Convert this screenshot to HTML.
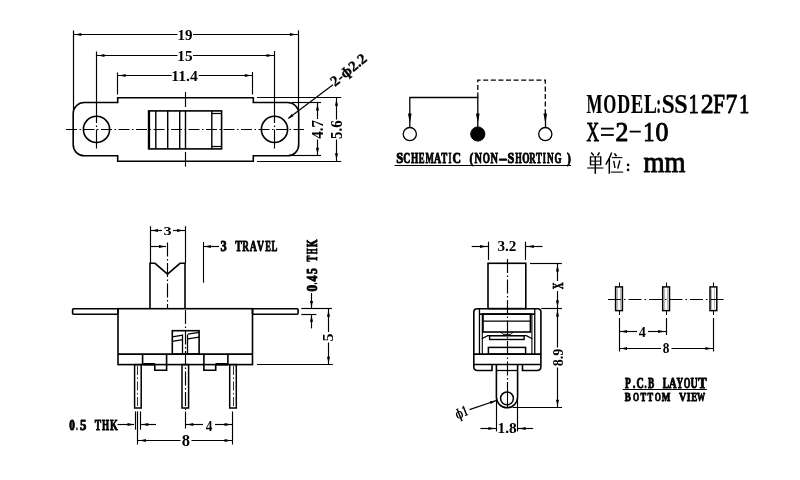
<!DOCTYPE html>
<html><head><meta charset="utf-8"><style>
html,body{margin:0;padding:0;background:#fff;}
body{width:800px;height:480px;overflow:hidden;font-family:"Liberation Serif",serif;}
svg{display:block;will-change:transform;}
</style></head><body>
<svg width="800" height="480" viewBox="0 0 800 480">
<rect width="800" height="480" fill="#fff"/>
<line x1="73.5" y1="30.5" x2="73.5" y2="112" stroke="#000" stroke-width="1.2"/>
<line x1="298.5" y1="30.3" x2="298.5" y2="112" stroke="#000" stroke-width="1.2"/>
<line x1="73.1" y1="34.5" x2="177.5" y2="34.5" stroke="#000" stroke-width="1.15"/>
<line x1="193" y1="34.5" x2="298" y2="34.5" stroke="#000" stroke-width="1.15"/>
<path d="M74.8,34.5L81.3,32.95L81.3,36.05Z" fill="#000"/>
<path d="M296.4,34.5L289.9,36.05L289.9,32.95Z" fill="#000"/>
<g transform="translate(178.7,39.7)" font-family='"Liberation Serif"' font-weight="bold" font-size="14.81"><text transform="translate(-1.2,0) scale(1.0148,1)">19</text></g>
<line x1="96.5" y1="51.5" x2="96.5" y2="103" stroke="#000" stroke-width="1.15"/>
<line x1="274.5" y1="51" x2="274.5" y2="103" stroke="#000" stroke-width="1.15"/>
<line x1="96.5" y1="55.5" x2="177.5" y2="55.5" stroke="#000" stroke-width="1.15"/>
<line x1="193" y1="55.5" x2="274.5" y2="55.5" stroke="#000" stroke-width="1.15"/>
<path d="M98,55.5L104.5,53.95L104.5,57.05Z" fill="#000"/>
<path d="M273,55.5L266.5,57.05L266.5,53.95Z" fill="#000"/>
<g transform="translate(178.5,60.5)" font-family='"Liberation Serif"' font-weight="bold" font-size="14.81"><text transform="translate(-1.22,0) scale(1.0301,1)">15</text></g>
<line x1="117.5" y1="72.5" x2="117.5" y2="94.5" stroke="#000" stroke-width="1.15"/>
<line x1="252.5" y1="72" x2="252.5" y2="94.5" stroke="#000" stroke-width="1.15"/>
<line x1="117.7" y1="75.5" x2="171.7" y2="75.5" stroke="#000" stroke-width="1.15"/>
<line x1="198.7" y1="75.5" x2="252.8" y2="75.5" stroke="#000" stroke-width="1.15"/>
<path d="M119.2,75.5L125.7,73.95L125.7,77.05Z" fill="#000"/>
<path d="M251.3,75.5L244.8,77.05L244.8,73.95Z" fill="#000"/>
<g transform="translate(172.5,81.3)" font-family='"Liberation Serif"' font-weight="bold" font-size="14.66"><text transform="translate(-1.25,0) scale(1.0694,1)">11.4</text></g>
<path d="M117.7,97.7 H253.3 V102.5 H287.7 A11,11 0 0 1 298.7,113.5 V144.8 A11,11 0 0 1 287.7,155.8 H253.3 V161.3 H117.7 V155.8 H84.2 A11,11 0 0 1 73.2,144.8 V113.5 A11,11 0 0 1 84.2,102.5 H117.7 Z" fill="none" stroke="#000" stroke-width="1.6"/>
<circle cx="96.5" cy="129.4" r="13.1" fill="none" stroke="#000" stroke-width="1.6"/>
<circle cx="274.5" cy="129.4" r="13.1" fill="none" stroke="#000" stroke-width="1.6"/>
<line x1="66" y1="129.5" x2="304" y2="129.5" stroke="#000" stroke-width="1.15" stroke-dasharray="11 2.5 1.5 2.5"/>
<line x1="96.5" y1="103" x2="96.5" y2="148.5" stroke="#000" stroke-width="1.15" stroke-dasharray="20 2.5 1.5 2.5 20"/>
<line x1="274.5" y1="103" x2="274.5" y2="148.5" stroke="#000" stroke-width="1.15" stroke-dasharray="20 2.5 1.5 2.5 20"/>
<line x1="185.5" y1="92" x2="185.5" y2="107" stroke="#000" stroke-width="1.15"/>
<line x1="185.5" y1="152" x2="185.5" y2="166.5" stroke="#000" stroke-width="1.15"/>
<rect x="148.6" y="110.9" width="73" height="38" fill="none" stroke="#000" stroke-width="1.6"/>
<line x1="149.5" y1="110.9" x2="149.5" y2="148.9" stroke="#000" stroke-width="1.2"/>
<line x1="155.8" y1="110.9" x2="155.8" y2="148.9" stroke="#000" stroke-width="1.4"/>
<line x1="167.7" y1="110.9" x2="167.7" y2="148.9" stroke="#000" stroke-width="1.4"/>
<line x1="179.7" y1="110.9" x2="179.7" y2="148.9" stroke="#000" stroke-width="1.4"/>
<line x1="185.5" y1="110.9" x2="185.5" y2="148.9" stroke="#000" stroke-width="1.4"/>
<line x1="211.8" y1="110.9" x2="211.8" y2="148.9" stroke="#000" stroke-width="1.4"/>
<line x1="211.8" y1="113.5" x2="221.6" y2="113.5" stroke="#000" stroke-width="1.2"/>
<line x1="211.8" y1="146.5" x2="221.6" y2="146.5" stroke="#000" stroke-width="1.2"/>
<line x1="288.5" y1="118.2" x2="333" y2="84.8" stroke="#000" stroke-width="1.2"/>
<path d="M287.5,119L291.8,113.9L293.6,116.3Z" fill="#000"/>
<g transform="translate(335.5,86.5) rotate(-39)" font-family='"Liberation Serif"' font-weight="bold" font-size="14.66" stroke="#000" stroke-width="0.3" vector-effect="non-scaling-stroke" stroke-linejoin="round"><text transform="translate(-0.6,0) scale(1.0266,1)">2-ɸ2.2</text></g>
<line x1="292" y1="102.5" x2="321" y2="102.5" stroke="#000" stroke-width="1.15"/>
<line x1="292" y1="155.5" x2="321" y2="155.5" stroke="#000" stroke-width="1.15"/>
<line x1="317.5" y1="102.5" x2="317.5" y2="119" stroke="#000" stroke-width="1.15"/>
<line x1="317.5" y1="139.5" x2="317.5" y2="155.8" stroke="#000" stroke-width="1.15"/>
<path d="M317.5,104L319.05,110.5L315.95,110.5Z" fill="#000"/>
<path d="M317.5,154.3L315.95,147.8L319.05,147.8Z" fill="#000"/>
<g transform="translate(322.5,138.5) rotate(-90)" font-family='"Liberation Serif"' font-weight="bold" font-size="16.49"><text transform="translate(-0.22,0) scale(0.9022,1)">4.7</text></g>
<line x1="257" y1="97.5" x2="341.3" y2="97.5" stroke="#000" stroke-width="1.15"/>
<line x1="257" y1="161.5" x2="341.3" y2="161.5" stroke="#000" stroke-width="1.15"/>
<line x1="336.5" y1="97.7" x2="336.5" y2="119.5" stroke="#000" stroke-width="1.15"/>
<line x1="336.5" y1="139.5" x2="336.5" y2="161.3" stroke="#000" stroke-width="1.15"/>
<path d="M336.5,99.2L338.05,105.7L334.95,105.7Z" fill="#000"/>
<path d="M336.5,159.8L334.95,153.3L338.05,153.3Z" fill="#000"/>
<g transform="translate(342,138.3) rotate(-90)" font-family='"Liberation Serif"' font-weight="bold" font-size="16.79"><text transform="translate(-0.59,0) scale(0.8831,1)">5.6</text></g>
<path d="M409.8,127 V97.5 H477.8 V127" fill="none" stroke="#000" stroke-width="1.3"/>
<path d="M477.8,97.5 V80.1 H545.3 V114" fill="none" stroke="#000" stroke-width="1.3" stroke-dasharray="5 2.6"/>
<line x1="545.5" y1="114" x2="545.5" y2="127" stroke="#000" stroke-width="1.3"/>
<path d="M409.8,123.5L408,113.5L411.6,113.5Z" fill="#000"/>
<path d="M477.8,123.5L476,113.5L479.6,113.5Z" fill="#000"/>
<path d="M545.3,123.5L543.5,113.5L547.1,113.5Z" fill="#000"/>
<circle cx="409.8" cy="134.1" r="6.6" fill="none" stroke="#000" stroke-width="1.3"/>
<circle cx="477.8" cy="134" r="7.1" fill="#000" stroke="#000" stroke-width="1"/>
<circle cx="545.3" cy="134.1" r="6.6" fill="none" stroke="#000" stroke-width="1.3"/>
<g transform="translate(397.25,162.82)" font-family='"Liberation Serif"' font-weight="bold" font-size="15.18" stroke="#000" stroke-width="0.9" vector-effect="non-scaling-stroke" stroke-linejoin="round"><text transform="translate(-0.94,0) scale(0.8309,1)">S</text><text transform="translate(6.07,0) scale(0.6368,1)">C</text><text transform="translate(13.71,0) scale(0.6103,1)">H</text><text transform="translate(21.57,0) scale(0.5766,1)">E</text><text transform="translate(28.32,0) scale(0.5857,1)">M</text><text transform="translate(36.75,0) scale(0.6496,1)">A</text><text transform="translate(44.06,0) scale(0.5967,1)">T</text><text transform="translate(51.29,0) scale(0.4942,1)">I</text><text transform="translate(55.36,0) scale(0.7752,1)">C</text><text transform="translate(72.18,0) scale(0.7623,1)">(</text><text transform="translate(77.34,0) scale(0.6781,1)">N</text><text transform="translate(85.39,0) scale(0.6105,1)">O</text><text transform="translate(93.14,0) scale(0.6781,1)">N</text><text transform="translate(101.45,0) scale(1.6981,1)">-</text><text transform="translate(110.28,0) scale(0.8022,1)">S</text><text transform="translate(117.92,0) scale(0.5528,1)">H</text><text transform="translate(124.98,0) scale(0.6153,1)">O</text><text transform="translate(132.07,0) scale(0.5852,1)">R</text><text transform="translate(138.82,0) scale(0.5811,1)">T</text><text transform="translate(145.42,0) scale(0.5354,1)">I</text><text transform="translate(149.67,0) scale(0.6017,1)">N</text><text transform="translate(157.25,0) scale(0.5978,1)">G</text><text transform="translate(169.7,0) scale(0.7603,1)">)</text></g>
<line x1="394.5" y1="165.5" x2="571" y2="165.5" stroke="#000" stroke-width="1.2"/>
<g transform="translate(586.7,112.71)" font-family='"Liberation Serif"' font-weight="bold" font-size="26.98" stroke="#000" stroke-width="0.2" vector-effect="non-scaling-stroke" stroke-linejoin="round"><text transform="translate(-0.25,0) scale(0.6260,1)">M</text><text transform="translate(16.46,0) scale(0.6214,1)">O</text><text transform="translate(30.53,0) scale(0.6627,1)">D</text><text transform="translate(44.42,0) scale(0.6796,1)">E</text><text transform="translate(57.21,0) scale(0.7171,1)">L</text><text transform="translate(69.54,0) scale(0.5392,1)">:</text><text transform="translate(75.03,0) scale(0.8582,1)">S</text><text transform="translate(87.67,0) scale(0.8945,1)">S</text></g>
<g transform="translate(690.35,112.57)" font-family='"Liberation Serif"' font-weight="normal" font-size="26.55" stroke="#000" stroke-width="0.9" vector-effect="non-scaling-stroke" stroke-linejoin="round"><text transform="translate(-1.75,0) scale(0.7745,1)">1</text><text transform="translate(10.34,0) scale(0.9699,1)">2</text><text transform="translate(22.87,0) scale(0.7917,1)">F</text><text transform="translate(35.06,0) scale(0.8928,1)">7</text><text transform="translate(48.75,0) scale(0.7745,1)">1</text></g>
<g transform="translate(586.73,140.81)" font-family='"Liberation Serif"' font-weight="normal" font-size="26.9" stroke="#000" stroke-width="0.95" vector-effect="non-scaling-stroke" stroke-linejoin="round"><text transform="translate(-0.35,0) scale(0.6512,1)">X</text><text transform="translate(28.7,0) scale(0.9526,1)">2</text><text transform="translate(56.57,0) scale(0.8430,1)">1</text><text transform="translate(68.72,0) scale(0.9603,1)">0</text></g>
<line x1="601" y1="128.6" x2="613.8" y2="128.6" stroke="#000" stroke-width="1.8"/>
<line x1="601" y1="135" x2="613.8" y2="135" stroke="#000" stroke-width="1.8"/>
<line x1="629.6" y1="131.6" x2="640.8" y2="131.6" stroke="#000" stroke-width="1.8"/>
<g transform="translate(644.15,172.12)" font-family='"Liberation Serif"' font-weight="normal" font-size="28.57" stroke="#000" stroke-width="0.9" vector-effect="non-scaling-stroke" stroke-linejoin="round"><text transform="translate(-0.54,0) scale(0.9412,1)">mm</text></g>
<path d="M150,308.7 V263.3 H155 L167.5,274.2 L180,263.3 H185 V308.7" fill="none" stroke="#000" stroke-width="1.6"/>
<line x1="150.5" y1="226.3" x2="150.5" y2="263.3" stroke="#000" stroke-width="1.15"/>
<line x1="185.5" y1="226.3" x2="185.5" y2="263.3" stroke="#000" stroke-width="1.15"/>
<line x1="150" y1="230.5" x2="162" y2="230.5" stroke="#000" stroke-width="1.15"/>
<line x1="173" y1="230.5" x2="185" y2="230.5" stroke="#000" stroke-width="1.15"/>
<path d="M151.5,230.5L158,228.95L158,232.05Z" fill="#000"/>
<path d="M183.5,230.5L177,232.05L177,228.95Z" fill="#000"/>
<g transform="translate(164,235.3)" font-family='"Liberation Serif"' font-weight="bold" font-size="13.13"><text transform="translate(-0.57,0) scale(1.2399,1)">3</text></g>
<line x1="150" y1="246.5" x2="166" y2="246.5" stroke="#000" stroke-width="1.15"/>
<path d="M165.5,246.5L159,248.05L159,244.95Z" fill="#000"/>
<line x1="167.5" y1="242.5" x2="167.5" y2="308" stroke="#000" stroke-width="1.15" stroke-dasharray="14 2.5 1.5 2.5"/>
<line x1="203.5" y1="242" x2="203.5" y2="282.7" stroke="#000" stroke-width="1.1"/>
<line x1="203" y1="246.5" x2="219" y2="246.5" stroke="#000" stroke-width="1.15"/>
<path d="M204.4,246.5L210.9,244.95L210.9,248.05Z" fill="#000"/>
<g transform="translate(220.95,251.32)" font-family='"Liberation Serif"' font-weight="bold" font-size="15.02" stroke="#000" stroke-width="0.9" vector-effect="non-scaling-stroke" stroke-linejoin="round"><text transform="translate(-0.43,0) scale(0.8205,1)">3</text><text transform="translate(14.35,0) scale(0.6604,1)">T</text><text transform="translate(21.26,0) scale(0.6144,1)">R</text><text transform="translate(28.8,0) scale(0.6515,1)">A</text><text transform="translate(36,0) scale(0.6561,1)">V</text><text transform="translate(44.37,0) scale(0.5658,1)">E</text><text transform="translate(50.67,0) scale(0.5893,1)">L</text></g>
<rect x="118" y="308.7" width="134.5" height="55.9" fill="none" stroke="#000" stroke-width="1.6"/>
<rect x="72.6" y="308.7" width="45.4" height="5.5" fill="none" stroke="#000" stroke-width="1.6" rx="1"/>
<rect x="252.5" y="308.7" width="45.6" height="5.5" fill="none" stroke="#000" stroke-width="1.6" rx="1"/>
<line x1="118" y1="354.1" x2="252.5" y2="354.1" stroke="#000" stroke-width="1.6"/>
<line x1="142.6" y1="354.1" x2="142.6" y2="364.6" stroke="#000" stroke-width="1.6"/>
<line x1="227.9" y1="354.1" x2="227.9" y2="364.6" stroke="#000" stroke-width="1.6"/>
<path d="M142.6,364.6 H154.8 V370.3 H166.6 V354.1" fill="none" stroke="#000" stroke-width="1.6"/>
<path d="M227.9,364.6 H215.7 V370.3 H203.9 V354.1" fill="none" stroke="#000" stroke-width="1.6"/>
<line x1="143.5" y1="363.5" x2="154.8" y2="363.5" stroke="#000" stroke-width="1"/>
<line x1="227" y1="363.5" x2="215.7" y2="363.5" stroke="#000" stroke-width="1"/>
<rect x="172.3" y="330.7" width="26.8" height="23.4" fill="none" stroke="#000" stroke-width="1.6"/>
<line x1="172.3" y1="336.8" x2="182.7" y2="335.1" stroke="#000" stroke-width="1.3"/>
<line x1="187.9" y1="334.2" x2="199.1" y2="332.4" stroke="#000" stroke-width="1.3"/>
<line x1="172.3" y1="341.4" x2="182.7" y2="339.7" stroke="#000" stroke-width="1.3"/>
<line x1="187.9" y1="338.9" x2="199.1" y2="337.2" stroke="#000" stroke-width="1.3"/>
<line x1="182.5" y1="334.6" x2="182.5" y2="354.1" stroke="#000" stroke-width="1.3"/>
<line x1="187.5" y1="334.6" x2="187.5" y2="354.1" stroke="#000" stroke-width="1.3"/>
<line x1="185.5" y1="310" x2="185.5" y2="412" stroke="#000" stroke-width="1.15" stroke-dasharray="14 2.5 1.5 2.5"/>
<rect x="134.6" y="364.6" width="6.6" height="43.4" fill="none" stroke="#000" stroke-width="1.5"/>
<rect x="182" y="364.6" width="6.6" height="43.4" fill="none" stroke="#000" stroke-width="1.5"/>
<rect x="229.7" y="364.6" width="6.6" height="43.4" fill="none" stroke="#000" stroke-width="1.5"/>
<line x1="137.5" y1="366" x2="137.5" y2="406" stroke="#000" stroke-width="0.8" stroke-dasharray="9 2.5 1.5 2.5"/>
<line x1="233.5" y1="366" x2="233.5" y2="406" stroke="#000" stroke-width="0.8" stroke-dasharray="9 2.5 1.5 2.5"/>
<line x1="135.5" y1="411.4" x2="135.5" y2="429.7" stroke="#000" stroke-width="1.15"/>
<line x1="140.5" y1="411.4" x2="140.5" y2="429.7" stroke="#000" stroke-width="1.15"/>
<line x1="137.5" y1="411.4" x2="137.5" y2="444.5" stroke="#000" stroke-width="1.15"/>
<line x1="185.5" y1="411.5" x2="185.5" y2="428.5" stroke="#000" stroke-width="1.15"/>
<line x1="232.5" y1="411.5" x2="232.5" y2="444.5" stroke="#000" stroke-width="1.15"/>
<g transform="translate(69.6,430.17)" font-family='"Liberation Serif"' font-weight="bold" font-size="14.49" stroke="#000" stroke-width="0.9" vector-effect="non-scaling-stroke" stroke-linejoin="round"><text transform="translate(-0.45,0) scale(0.7724,1)">0</text><text transform="translate(6.76,0) scale(0.3667,1)">.</text><text transform="translate(10.34,0) scale(0.8770,1)">5</text><text transform="translate(25.06,0) scale(0.6630,1)">T</text><text transform="translate(32.41,0) scale(0.6300,1)">H</text><text transform="translate(40.4,0) scale(0.6856,1)">K</text></g>
<line x1="117.5" y1="424.5" x2="134" y2="424.5" stroke="#000" stroke-width="1.15"/>
<path d="M134,424.5L127.5,426.05L127.5,422.95Z" fill="#000"/>
<line x1="141.1" y1="424.5" x2="156" y2="424.5" stroke="#000" stroke-width="1.15"/>
<path d="M141.8,424.5L148.3,422.95L148.3,426.05Z" fill="#000"/>
<line x1="185.3" y1="424.5" x2="203" y2="424.5" stroke="#000" stroke-width="1.15"/>
<line x1="215" y1="424.5" x2="232.6" y2="424.5" stroke="#000" stroke-width="1.15"/>
<path d="M186.8,424.5L193.3,422.95L193.3,426.05Z" fill="#000"/>
<path d="M231.1,424.5L224.6,426.05L224.6,422.95Z" fill="#000"/>
<g transform="translate(206,431)" font-family='"Liberation Serif"' font-weight="bold" font-size="15.27"><text transform="translate(-0.2,0) scale(0.8733,1)">4</text></g>
<line x1="137.9" y1="440.5" x2="180.5" y2="440.5" stroke="#000" stroke-width="1.15"/>
<line x1="191.5" y1="440.5" x2="232.6" y2="440.5" stroke="#000" stroke-width="1.15"/>
<path d="M139.4,440.5L145.9,438.95L145.9,442.05Z" fill="#000"/>
<path d="M231.1,440.5L224.6,442.05L224.6,438.95Z" fill="#000"/>
<g transform="translate(182.3,446.3)" font-family='"Liberation Serif"' font-weight="bold" font-size="15.88"><text transform="translate(-0.58,0) scale(1.0399,1)">8</text></g>
<g transform="translate(317.22,291.05) rotate(-90)" font-family='"Liberation Serif"' font-weight="bold" font-size="15.18" stroke="#000" stroke-width="0.9" vector-effect="non-scaling-stroke" stroke-linejoin="round"><text transform="translate(-0.53,0) scale(0.8786,1)">0</text><text transform="translate(6.82,0) scale(0.4118,1)">.</text><text transform="translate(9.52,0) scale(0.7936,1)">4</text><text transform="translate(17.04,0) scale(0.7597,1)">5</text><text transform="translate(29.57,0) scale(0.5811,1)">T</text><text transform="translate(36.69,0) scale(0.4953,1)">H</text><text transform="translate(43.75,0) scale(0.6546,1)">K</text></g>
<line x1="311.5" y1="293" x2="311.5" y2="308.7" stroke="#000" stroke-width="1.15"/>
<path d="M311.5,307.4L309.95,300.9L313.05,300.9Z" fill="#000"/>
<line x1="311.5" y1="314" x2="311.5" y2="328.4" stroke="#000" stroke-width="1.15"/>
<path d="M311.5,315.3L313.05,321.8L309.95,321.8Z" fill="#000"/>
<line x1="301.3" y1="308.5" x2="331.9" y2="308.5" stroke="#000" stroke-width="1.15"/>
<line x1="301.3" y1="314.5" x2="316.3" y2="314.5" stroke="#000" stroke-width="1.15"/>
<line x1="256.9" y1="364.5" x2="332.8" y2="364.5" stroke="#000" stroke-width="1.15"/>
<line x1="328.5" y1="308.7" x2="328.5" y2="332" stroke="#000" stroke-width="1.15"/>
<line x1="328.5" y1="342.5" x2="328.5" y2="364.8" stroke="#000" stroke-width="1.15"/>
<path d="M328.5,310.2L330.05,316.7L326.95,316.7Z" fill="#000"/>
<path d="M328.5,363.3L326.95,356.8L330.05,356.8Z" fill="#000"/>
<g transform="translate(332.8,340.8) rotate(-90)" font-family='"Liberation Serif"' font-weight="bold" font-size="14.35"><text transform="translate(-0.65,0) scale(1.1313,1)">5</text></g>
<rect x="488" y="263.3" width="37.8" height="45.3" fill="none" stroke="#000" stroke-width="1.6"/>
<line x1="488.5" y1="241.7" x2="488.5" y2="260" stroke="#000" stroke-width="1.15"/>
<line x1="525.5" y1="241.7" x2="525.5" y2="260" stroke="#000" stroke-width="1.15"/>
<line x1="471.7" y1="246.5" x2="488" y2="246.5" stroke="#000" stroke-width="1.15"/>
<path d="M486.5,246.5L480,248.05L480,244.95Z" fill="#000"/>
<line x1="525.8" y1="246.5" x2="542.5" y2="246.5" stroke="#000" stroke-width="1.15"/>
<path d="M527.3,246.5L533.8,244.95L533.8,248.05Z" fill="#000"/>
<g transform="translate(498,251.3)" font-family='"Liberation Serif"' font-weight="bold" font-size="15.27"><text transform="translate(-0.53,0) scale(0.9923,1)">3.2</text></g>
<line x1="507.5" y1="259" x2="507.5" y2="408" stroke="#000" stroke-width="1.15" stroke-dasharray="14 2.5 1.5 2.5"/>
<line x1="530" y1="263.5" x2="561.9" y2="263.5" stroke="#000" stroke-width="1.15"/>
<line x1="557.5" y1="263.5" x2="557.5" y2="281" stroke="#000" stroke-width="1.15"/>
<line x1="557.5" y1="291" x2="557.5" y2="308.5" stroke="#000" stroke-width="1.15"/>
<path d="M557.5,265L559.05,271.5L555.95,271.5Z" fill="#000"/>
<path d="M557.5,307L555.95,300.5L559.05,300.5Z" fill="#000"/>
<g transform="translate(562.61,289.05) rotate(-90)" font-family='"Liberation Serif"' font-weight="bold" font-size="15.6" stroke="#000" stroke-width="0.7" vector-effect="non-scaling-stroke" stroke-linejoin="round"><text transform="translate(-0.19,0) scale(0.5991,1)">X</text></g>
<line x1="541.25" y1="308.5" x2="561.9" y2="308.5" stroke="#000" stroke-width="1.15"/>
<line x1="557.5" y1="308.5" x2="557.5" y2="347.5" stroke="#000" stroke-width="1.15"/>
<line x1="557.5" y1="367.5" x2="557.5" y2="407.7" stroke="#000" stroke-width="1.15"/>
<path d="M557.5,310L559.05,316.5L555.95,316.5Z" fill="#000"/>
<path d="M557.5,406.2L555.95,399.7L559.05,399.7Z" fill="#000"/>
<g transform="translate(562.5,365.8) rotate(-90)" font-family='"Liberation Serif"' font-weight="bold" font-size="15.27"><text transform="translate(-0.49,0) scale(0.9214,1)">8.9</text></g>
<line x1="512.5" y1="407.5" x2="562" y2="407.5" stroke="#000" stroke-width="1.15"/>
<path d="M492,364.5 V370.5 H477.5 Q473.8,370.5 473.8,366.5 V312 Q473.8,308.7 477.1,308.7 H537.6 Q540.9,308.7 540.9,312 V366.5 Q540.9,370.5 537,370.5 H522.5 V364.5" fill="none" stroke="#000" stroke-width="1.6"/>
<line x1="473.8" y1="364.5" x2="540.9" y2="364.5" stroke="#000" stroke-width="1.6"/>
<line x1="473.8" y1="354.1" x2="540.9" y2="354.1" stroke="#000" stroke-width="1.6"/>
<line x1="479.45" y1="314.1" x2="534.75" y2="314.1" stroke="#000" stroke-width="1.6"/>
<line x1="479.45" y1="308.7" x2="479.45" y2="354.1" stroke="#000" stroke-width="1.3"/>
<line x1="534.75" y1="308.7" x2="534.75" y2="354.1" stroke="#000" stroke-width="1.3"/>
<line x1="482.3" y1="314.1" x2="482.3" y2="354.1" stroke="#000" stroke-width="1.1"/>
<line x1="531.9" y1="314.1" x2="531.9" y2="354.1" stroke="#000" stroke-width="1.1"/>
<rect x="483" y="314.1" width="47.4" height="17.9" fill="none" stroke="#000" stroke-width="1.6"/>
<line x1="483" y1="321.1" x2="530.4" y2="321.1" stroke="#000" stroke-width="1.4"/>
<path d="M500.8,332 L503,334.3 H511 L513.2,332" fill="none" stroke="#000" stroke-width="1"/>
<path d="M481.8,338.8 L487.7,335.7 H526.3 L532.4,338.8" fill="none" stroke="#000" stroke-width="1.2"/>
<rect x="489.6" y="335.7" width="34.5" height="3.8" fill="none" stroke="#000" stroke-width="1.4"/>
<rect x="488.4" y="347.4" width="37.2" height="6.7" fill="none" stroke="#000" stroke-width="1.5"/>
<path d="M496.4,364.5 V397.1 A10.6,10.6 0 0 0 517.6,397.1 V364.5" fill="none" stroke="#000" stroke-width="1.6"/>
<line x1="496.4" y1="370.5" x2="517.6" y2="370.5" stroke="#000" stroke-width="1.3"/>
<circle cx="507" cy="398.4" r="6.4" fill="none" stroke="#000" stroke-width="1.5"/>
<line x1="507.5" y1="387.3" x2="507.5" y2="406.8" stroke="#000" stroke-width="1"/>
<line x1="496.5" y1="399" x2="496.5" y2="431.4" stroke="#000" stroke-width="1.15"/>
<line x1="517.5" y1="399" x2="517.5" y2="431.4" stroke="#000" stroke-width="1.15"/>
<line x1="480.4" y1="428.5" x2="496.4" y2="428.5" stroke="#000" stroke-width="1.15"/>
<path d="M494.9,428.5L488.4,430.05L488.4,426.95Z" fill="#000"/>
<line x1="517.6" y1="428.5" x2="533.2" y2="428.5" stroke="#000" stroke-width="1.15"/>
<path d="M519.1,428.5L525.6,426.95L525.6,430.05Z" fill="#000"/>
<g transform="translate(498.7,432.6)" font-family='"Liberation Serif"' font-weight="bold" font-size="14.05"><text transform="translate(-1.23,0) scale(1.0977,1)">1.8</text></g>
<line x1="469.5" y1="409.6" x2="496.4" y2="400.5" stroke="#000" stroke-width="1.15"/>
<path d="M496.4,400.5L490.72,404L489.76,401.16Z" fill="#000"/>
<g transform="translate(457.5,419.3) rotate(-22)" font-family='"Liberation Serif"' font-weight="bold" font-size="15.27"><text transform="translate(-0.37,0) scale(0.6925,1)">ɸ1</text></g>
<rect x="615.6" y="286.9" width="6.8" height="23.7" fill="none" stroke="#000" stroke-width="1.5"/>
<line x1="619.5" y1="282.5" x2="619.5" y2="286.9" stroke="#000" stroke-width="1"/>
<line x1="619.5" y1="310.6" x2="619.5" y2="315" stroke="#000" stroke-width="1"/>
<line x1="617.5" y1="288.5" x2="617.5" y2="309" stroke="#999" stroke-width="0.7"/>
<line x1="620.5" y1="288.5" x2="620.5" y2="309" stroke="#999" stroke-width="0.7"/>
<rect x="662.7" y="286.9" width="6.8" height="23.7" fill="none" stroke="#000" stroke-width="1.5"/>
<line x1="666.5" y1="282.5" x2="666.5" y2="286.9" stroke="#000" stroke-width="1"/>
<line x1="666.5" y1="310.6" x2="666.5" y2="315" stroke="#000" stroke-width="1"/>
<line x1="664.5" y1="288.5" x2="664.5" y2="309" stroke="#999" stroke-width="0.7"/>
<line x1="667.5" y1="288.5" x2="667.5" y2="309" stroke="#999" stroke-width="0.7"/>
<rect x="710" y="286.9" width="6.8" height="23.7" fill="none" stroke="#000" stroke-width="1.5"/>
<line x1="713.5" y1="282.5" x2="713.5" y2="286.9" stroke="#000" stroke-width="1"/>
<line x1="713.5" y1="310.6" x2="713.5" y2="315" stroke="#000" stroke-width="1"/>
<line x1="711.5" y1="288.5" x2="711.5" y2="309" stroke="#999" stroke-width="0.7"/>
<line x1="714.5" y1="288.5" x2="714.5" y2="309" stroke="#999" stroke-width="0.7"/>
<line x1="608" y1="299.5" x2="724" y2="299.5" stroke="#000" stroke-width="1.15" stroke-dasharray="13 3 1.5 3"/>
<line x1="619.5" y1="318" x2="619.5" y2="351.5" stroke="#000" stroke-width="1.15"/>
<line x1="666.5" y1="318" x2="666.5" y2="335" stroke="#000" stroke-width="1.15"/>
<line x1="713.5" y1="318" x2="713.5" y2="351.5" stroke="#000" stroke-width="1.15"/>
<line x1="619" y1="331.5" x2="637" y2="331.5" stroke="#000" stroke-width="1.15"/>
<line x1="648" y1="331.5" x2="666.1" y2="331.5" stroke="#000" stroke-width="1.15"/>
<path d="M620.5,331.5L627,329.95L627,333.05Z" fill="#000"/>
<path d="M664.6,331.5L658.1,333.05L658.1,329.95Z" fill="#000"/>
<g transform="translate(639,336.9)" font-family='"Liberation Serif"' font-weight="bold" font-size="14.35"><text transform="translate(-0.21,0) scale(0.9890,1)">4</text></g>
<line x1="619" y1="348.5" x2="661" y2="348.5" stroke="#000" stroke-width="1.15"/>
<line x1="671.5" y1="348.5" x2="713.4" y2="348.5" stroke="#000" stroke-width="1.15"/>
<path d="M620.5,348.5L627,346.95L627,350.05Z" fill="#000"/>
<path d="M711.9,348.5L705.4,350.05L705.4,346.95Z" fill="#000"/>
<g transform="translate(663.3,353.2)" font-family='"Liberation Serif"' font-weight="bold" font-size="14.05"><text transform="translate(-0.46,0) scale(0.9438,1)">8</text></g>
<g transform="translate(625.45,387.52)" font-family='"Liberation Serif"' font-weight="bold" font-size="14.26" stroke="#000" stroke-width="0.9" vector-effect="non-scaling-stroke" stroke-linejoin="round"><text transform="translate(-0.49,0) scale(0.6644,1)">P</text><text transform="translate(7.27,0) scale(0.7451,1)">.</text><text transform="translate(11.05,0) scale(0.7072,1)">C</text><text transform="translate(18.97,0) scale(0.5917,1)">.</text><text transform="translate(22.61,0) scale(0.6508,1)">B</text><text transform="translate(37.31,0) scale(0.6610,1)">L</text><text transform="translate(43.55,0) scale(0.7361,1)">A</text><text transform="translate(51.11,0) scale(0.6403,1)">Y</text><text transform="translate(58.22,0) scale(0.5982,1)">O</text><text transform="translate(65,0) scale(0.6961,1)">U</text><text transform="translate(72.55,0) scale(0.9166,1)">T</text></g>
<line x1="622.75" y1="389.5" x2="706.9" y2="389.5" stroke="#000" stroke-width="1.2"/>
<g transform="translate(625.15,401.32)" font-family='"Liberation Serif"' font-weight="bold" font-size="13.34" stroke="#000" stroke-width="0.9" vector-effect="non-scaling-stroke" stroke-linejoin="round"><text transform="translate(-0.49,0) scale(0.6835,1)">B</text><text transform="translate(7.95,0) scale(0.5951,1)">O</text><text transform="translate(15.42,0) scale(0.6432,1)">T</text><text transform="translate(22.32,0) scale(0.6373,1)">T</text><text transform="translate(29.55,0) scale(0.5951,1)">O</text><text transform="translate(36.71,0) scale(0.6828,1)">M</text><text transform="translate(53.85,0) scale(0.7548,1)">V</text><text transform="translate(61.5,0) scale(0.7494,1)">I</text><text transform="translate(66.06,0) scale(0.6807,1)">E</text><text transform="translate(71.73,0) scale(0.6104,1)">W</text></g>
<g stroke="#000" fill="none" stroke-linecap="butt">
<path d="M591.2,152.5 L593.8,155.5" stroke-width="1.5"/>
<path d="M599.5,152.4 L597.6,155.5" stroke-width="1.5"/>
<path d="M590.5,156.3 V165.3 M600.7,156.3 V165.3" stroke-width="1.4"/>
<path d="M590.5,156.9 H600.7 M590.5,161.1 H600.7 M590.5,164.8 H600.7" stroke-width="1.0"/>
<path d="M587.2,168 H603.4" stroke-width="1.1"/>
<path d="M595.3,156.3 V173.8" stroke-width="1.5"/>
<path d="M611.7,152.6 Q609.5,159 605.8,164.6" stroke-width="1.4"/>
<path d="M609.3,158.4 V173.7" stroke-width="1.5"/>
<path d="M614.5,153.4 L616.5,156.2" stroke-width="1.6"/>
<path d="M611.8,157.6 H622.3" stroke-width="1.1"/>
<path d="M613.7,160.8 L615,168" stroke-width="1.4"/>
<path d="M619.9,160.5 L617.7,168.6" stroke-width="1.4"/>
<path d="M610.9,172.1 H623.1" stroke-width="1.1"/>
</g>
<circle cx="628.1" cy="164.9" r="1.3" fill="#000"/>
<circle cx="628.1" cy="169.9" r="1.3" fill="#000"/>
</svg>
</body></html>
